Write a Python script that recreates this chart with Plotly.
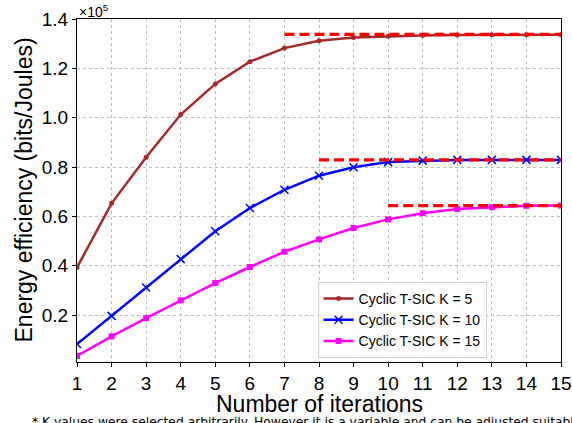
import plotly.graph_objects as go

iterations = list(range(1, 16))
k5 = [0.393, 0.653, 0.840, 1.013, 1.137, 1.227, 1.282, 1.312, 1.325, 1.330, 1.333, 1.335, 1.336, 1.336, 1.336]
k10 = [0.083, 0.197, 0.312, 0.427, 0.540, 0.634, 0.708, 0.765, 0.799, 0.820, 0.826, 0.829, 0.829, 0.829, 0.829]
k15 = [0.035, 0.114, 0.188, 0.260, 0.330, 0.395, 0.457, 0.507, 0.553, 0.588, 0.613, 0.630, 0.637, 0.643, 0.644]
bound_values = [1.3375, 0.829, 0.644]
bound_start = [7, 8, 10]
names = ["Cyclic T-SIC K = 5", "Cyclic T-SIC K = 10", "Cyclic T-SIC K = 15"]
y_ticks = [0.2, 0.4, 0.6, 0.8, 1.0, 1.2, 1.4]
footnote = "* K values were selected arbitrarily. However it is a variable and can be adjusted suitably."

font = "Liberation Sans, Arial, sans-serif"
fig = go.Figure()

fig.add_trace(go.Scatter(x=iterations, y=k5, name=names[0], mode="lines+markers",
                         line=dict(color="#A52A2A", width=2.5),
                         marker=dict(symbol="circle", size=5, color="#A52A2A")))
fig.add_trace(go.Scatter(x=iterations, y=k10, name=names[1], mode="lines+markers",
                         line=dict(color="#0000FF", width=2.5),
                         marker=dict(symbol="x-thin", size=8, line=dict(color="#0000FF", width=1.5))))
fig.add_trace(go.Scatter(x=iterations, y=k15, name=names[2], mode="lines+markers",
                         line=dict(color="#FF00FF", width=2.5),
                         marker=dict(symbol="square", size=6, color="#FF00FF")))

for start, val in zip(bound_start, bound_values):
    fig.add_trace(go.Scatter(x=[start, 15], y=[val, val], mode="lines",
                             line=dict(color="#FF0000", width=3.2, dash="10px,5px"),
                             showlegend=False, hoverinfo="skip"))

fig.update_layout(
    width=572, height=423,
    margin=dict(l=77, r=11, t=19, b=61, autoexpand=False),
    plot_bgcolor="white", paper_bgcolor="white",
    font=dict(family=font, color="black"),
    legend=dict(x=0.497, y=0.012, xanchor="left", yanchor="bottom",
                bgcolor="rgba(255,255,255,0.85)", bordercolor="#d0d0d0", borderwidth=1,
                font=dict(size=14), tracegroupgap=0, itemwidth=30),
    xaxis=dict(range=[1, 15], tickmode="array", tickvals=iterations, automargin=False,
               showgrid=True, gridcolor="#bdbdbd", griddash="dot", gridwidth=1,
               showline=True, linecolor="black", linewidth=1.3, mirror=True,
               ticks="outside", ticklen=4, tickcolor="black",
               tickfont=dict(size=19), zeroline=False),
    yaxis=dict(range=[0.01, 1.4], tickmode="array", tickvals=y_ticks, automargin=False,
               ticktext=[f"{v:.1f}" for v in y_ticks],
               showgrid=True, gridcolor="#bdbdbd", griddash="dot", gridwidth=1,
               showline=True, linecolor="black", linewidth=1.3, mirror=True,
               ticks="outside", ticklen=4, tickcolor="black",
               tickfont=dict(size=19), zeroline=False),
)

fig.add_annotation(xref="paper", yref="paper", x=0.5, y=0, xanchor="center", yanchor="top",
                   text="Number of iterations", showarrow=False, font=dict(size=23), yshift=-27)
fig.add_annotation(xref="paper", yref="paper", x=0, y=0.5, xanchor="center", yanchor="middle",
                   text="Energy efficiency (bits/Joules)", textangle=-90, showarrow=False,
                   font=dict(size=23), xshift=-54)
fig.add_annotation(xref="paper", yref="paper", x=0, y=1, xanchor="left", yanchor="bottom",
                   text="×10<sup>5</sup>", showarrow=False, font=dict(size=14), yshift=-3)
fig.add_annotation(xref="paper", yref="paper", x=0, y=0, xanchor="left", yanchor="top",
                   text=footnote, showarrow=False, font=dict(size=12.3, family="DejaVu Sans"),
                   xshift=-47, yshift=-51)

fig.write_html("out.html", config={"displayModeBar": False},
               post_script="document.body.style.margin='0';document.body.style.overflow='hidden';")
